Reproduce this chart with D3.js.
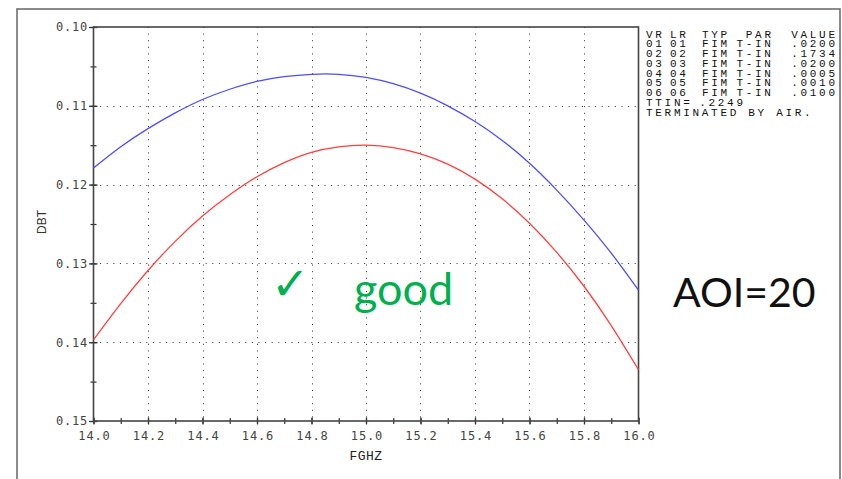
<!DOCTYPE html>
<html>
<head>
<meta charset="utf-8">
<script src="https://cdn.jsdelivr.net/npm/d3@7"></script>
<style>
  body { margin: 0; background: #fff; }
  svg { display: block; }
</style>
</head>
<body>
<svg id="chart"></svg>
<script>
// frequency samples (GHz)
const freqs = [14.0, 14.1, 14.2, 14.3, 14.4, 14.5, 14.6, 14.7, 14.8, 14.9, 15.0,
               15.1, 15.2, 15.3, 15.4, 15.5, 15.6, 15.7, 15.8, 15.9, 16.0];
// DBT, upper (blue) and lower (red) curves
const blueDBT = [0.1179, 0.1152, 0.1129, 0.1109, 0.1092, 0.1079, 0.1069, 0.1063, 0.1060, 0.1060, 0.1064,
                 0.1072, 0.1084, 0.1100, 0.1120, 0.1144, 0.1173, 0.1207, 0.1245, 0.1287, 0.1334];
const redDBT = [0.1397, 0.1351, 0.1309, 0.1272, 0.1240, 0.1213, 0.1190, 0.1172, 0.1159, 0.1152, 0.1150,
                0.1153, 0.1161, 0.1174, 0.1193, 0.1218, 0.1249, 0.1286, 0.1329, 0.1379, 0.1435];

const xTicks = [14.0, 14.2, 14.4, 14.6, 14.8, 15.0, 15.2, 15.4, 15.6, 15.8, 16.0];
const yTicks = [0.10, 0.11, 0.12, 0.13, 0.14, 0.15];

// layer table printed at the right
const legendHead = ['VR', 'LR', 'TYP', 'PAR', 'VALUE'];
const legendRows = [
  ['01', '01', 'FIM', 'T-IN', '.0200'],
  ['02', '02', 'FIM', 'T-IN', '.1734'],
  ['03', '03', 'FIM', 'T-IN', '.0200'],
  ['04', '04', 'FIM', 'T-IN', '.0005'],
  ['05', '05', 'FIM', 'T-IN', '.0010'],
  ['06', '06', 'FIM', 'T-IN', '.0100']
];
const ttin = '.2249';
const footNote = 'TERMINATED BY AIR.';

const width = 842, height = 479;
const svg = d3.select('#chart').attr('width', width).attr('height', height);

// outer slide frame
svg.append('path')
  .attr('d', 'M17,479V9H840V479')
  .attr('fill', 'none')
  .attr('stroke', '#666')
  .attr('stroke-width', 1.5);

const x = d3.scaleLinear().domain([14, 16]).range([93.5, 638.5]);
const y = d3.scaleLinear().domain([0.10, 0.15]).range([27, 421]);

const tickFont = 'DejaVu Sans Mono';

// dotted grid
const grid = svg.append('g').attr('stroke', '#333').attr('stroke-width', 1)
  .attr('stroke-dasharray', '1,5.6');
grid.selectAll('.gx').data(xTicks.slice(1, -1)).enter().append('line')
  .attr('x1', d => Math.round(x(d)) + 0.5).attr('x2', d => Math.round(x(d)) + 0.5)
  .attr('y1', y(0.10)).attr('y2', y(0.15));
grid.selectAll('.gy').data(yTicks.slice(1, -1)).enter().append('line')
  .attr('y1', d => Math.round(y(d)) + 0.5).attr('y2', d => Math.round(y(d)) + 0.5)
  .attr('x1', x(14)).attr('x2', x(16));

// minor ticks
const xMinor = d3.range(0, 21).map(i => 14 + i * 0.1);
const yMinor = d3.range(0, 11).map(i => 0.10 + i * 0.005);

const yAxis = svg.append('g')
  .attr('transform', `translate(${x(14)},0)`)
  .call(d3.axisLeft(y).tickValues(yMinor).tickSize(0).tickFormat(''));
yAxis.selectAll('.tick line').attr('x1', -3).attr('x2', 3);
yAxis.select('.domain').remove();

const xAxis = svg.append('g')
  .attr('transform', `translate(0,${y(0.15)})`)
  .call(d3.axisBottom(x).tickValues(xMinor).tickSize(0).tickFormat(''));
xAxis.selectAll('.tick line').attr('y1', -3).attr('y2', 3);
xAxis.select('.domain').remove();

// major ticks and labels
const yMajor = svg.append('g')
  .attr('transform', `translate(${x(14)},0)`)
  .call(d3.axisLeft(y).tickValues(yTicks).tickSize(0).tickPadding(6).tickFormat(d3.format('.2f')));
yMajor.select('.domain').remove();
yMajor.selectAll('.tick line').attr('x1', -4.5).attr('x2', 4);
yMajor.selectAll('.tick text')
  .attr('font-family', tickFont).attr('font-size', 12)
  .attr('letter-spacing', 0.8).attr('fill', '#444')
  .attr('x', -5.5);

const xMajor = svg.append('g')
  .attr('transform', `translate(0,${y(0.15)})`)
  .call(d3.axisBottom(x).tickValues(xTicks).tickSize(0).tickPadding(10).tickFormat(d3.format('.1f')));
xMajor.select('.domain').remove();
xMajor.selectAll('.tick line').attr('y1', -3.5).attr('y2', 3.5);
xMajor.selectAll('.tick text')
  .attr('font-family', tickFont).attr('font-size', 12)
  .attr('letter-spacing', 0.8).attr('fill', '#444')
  .attr('dx', 0.4);

svg.selectAll('.tick line').attr('stroke', '#333').attr('stroke-width', 1.2);

// plot box
svg.append('rect')
  .attr('x', x(14)).attr('y', y(0.10))
  .attr('width', x(16) - x(14)).attr('height', y(0.15) - y(0.10))
  .attr('fill', 'none').attr('stroke', '#444').attr('stroke-width', 1.6);

// curves
const line = d3.line()
  .x((d, i) => x(freqs[i]))
  .y(d => y(d))
  .curve(d3.curveNatural);

svg.append('path').datum(blueDBT)
  .attr('d', line).attr('fill', 'none')
  .attr('stroke', '#4d4dff').attr('stroke-width', 1.3);
svg.append('path').datum(redDBT)
  .attr('d', line).attr('fill', 'none')
  .attr('stroke', '#ff4040').attr('stroke-width', 1.3);

// axis titles
svg.append('text')
  .attr('x', 366).attr('y', 460)
  .attr('text-anchor', 'middle')
  .attr('font-family', 'Liberation Mono').attr('font-size', 13)
  .attr('letter-spacing', 0.5).attr('fill', '#222')
  .text('FGHZ');

svg.append('text')
  .attr('transform', 'translate(45.5,222) rotate(-90)')
  .attr('text-anchor', 'middle')
  .attr('font-family', 'Liberation Sans').attr('font-size', 12)
  .attr('fill', '#333')
  .text('DBT');

// layer table
const legFont = 'Liberation Mono';
const ls = 2.7;
const leg = svg.append('g')
  .attr('font-family', legFont).attr('font-size', 11)
  .attr('letter-spacing', ls).attr('fill', '#111');
const colX = [646, 670, 702, 771, 835];
const colAnchor = ['start', 'start', 'start', 'end', 'end'];
const rowGap = 9.77;
[legendHead].concat(legendRows).forEach((row, r) => {
  row.forEach((cell, c) => {
    leg.append('text')
      .attr('x', colAnchor[c] === 'end' ? colX[c] + ls : colX[c])
      .attr('y', 37.5 + r * rowGap)
      .attr('text-anchor', colAnchor[c])
      .text(cell);
  });
});
leg.append('text').attr('x', 646).attr('y', 37.5 + 7 * rowGap).text('TTIN=');
leg.append('text').attr('x', 743 + ls).attr('y', 37.5 + 7 * rowGap).attr('text-anchor', 'end').text(ttin);
leg.append('text').attr('x', 646).attr('y', 37.5 + 8 * rowGap).text(footNote);

// annotations
svg.append('text')
  .attr('x', 271).attr('y', 300)
  .attr('font-family', 'DejaVu Sans').attr('font-size', 46)
  .attr('fill', '#00b050')
  .text('\u2713');
svg.append('text')
  .attr('x', 354).attr('y', 305)
  .attr('font-family', 'Lato').attr('font-size', 45)
  .attr('fill', '#00b050')
  .text('good');
svg.append('text')
  .attr('x', 673).attr('y', 307)
  .attr('font-family', 'Lato').attr('font-size', 41)
  .attr('fill', '#111')
  .text('AOI=20');
</script>
</body>
</html>
